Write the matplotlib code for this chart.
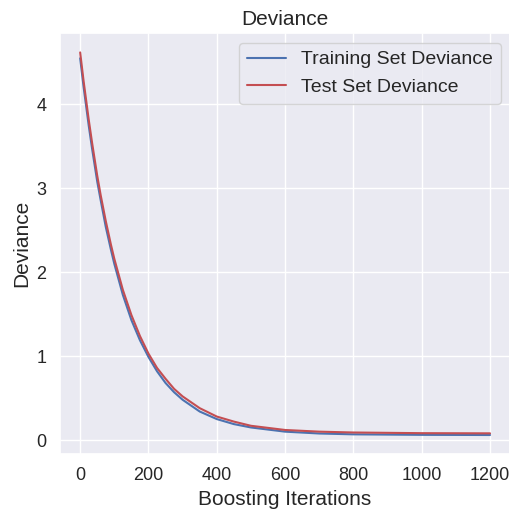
import matplotlib
matplotlib.use("Agg")
import matplotlib.pyplot as plt
import seaborn as sns

# values
iterations = [0, 10, 25, 35, 50, 60, 75, 90, 100, 125, 150, 175, 200, 225, 250, 275, 300, 350, 400, 450, 500, 600, 700, 800, 1000, 1200]
train_deviance = [4.55, 4.21, 3.75, 3.47, 3.08, 2.86, 2.54, 2.27, 2.10, 1.73, 1.43, 1.19, 0.99, 0.82, 0.68, 0.57, 0.48, 0.34, 0.25, 0.19, 0.15, 0.10, 0.078, 0.068, 0.062, 0.06]
test_deviance = [4.62, 4.28, 3.82, 3.54, 3.15, 2.92, 2.61, 2.33, 2.16, 1.79, 1.49, 1.24, 1.03, 0.86, 0.73, 0.61, 0.52, 0.38, 0.28, 0.22, 0.17, 0.12, 0.10, 0.09, 0.082, 0.08]

sns.set_theme(style="darkgrid", color_codes=True)
plt.rcParams["font.family"] = ["Liberation Sans", "DejaVu Sans"]

fig = plt.figure(figsize=(5.1, 5.12), dpi=100)
ax = fig.add_axes([0.117, 0.113, 0.884, 0.822])

ax.plot(iterations, train_deviance, "b-", label="Training Set Deviance")
ax.plot(iterations, test_deviance, "r-", label="Test Set Deviance")

ax.set_title("Deviance", fontsize=15)
ax.set_xlabel("Boosting Iterations", fontsize=15)
ax.set_ylabel("Deviance", fontsize=15)
ax.tick_params(labelsize=13)
ax.set_xticks([0, 200, 400, 600, 800, 1000, 1200])
ax.legend(loc="upper right", fontsize=14)

fig.savefig("out.png", dpi=100)
